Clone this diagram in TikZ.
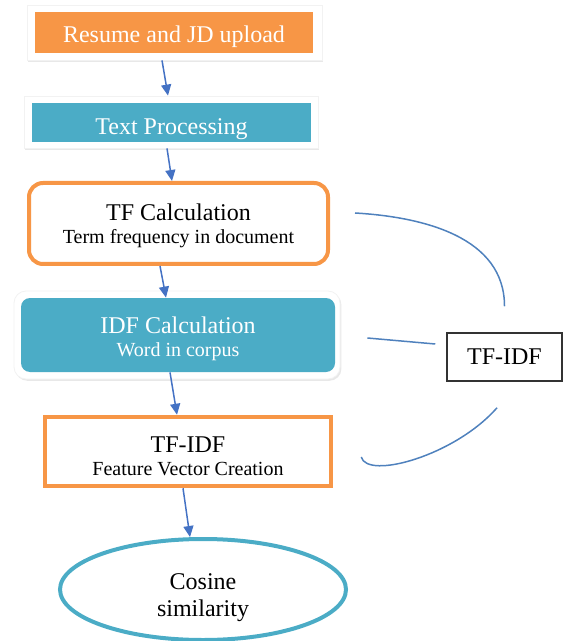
\documentclass[tikz,border=0pt]{standalone}
\usepackage{fontspec}
\setmainfont{Liberation Serif}
\usetikzlibrary{shapes.geometric,arrows.meta,shadows}

\definecolor{boxorange}{HTML}{F79646}
\definecolor{boxteal}{HTML}{4BACC6}
\definecolor{flowblue}{HTML}{4472C4}
\definecolor{linkblue}{HTML}{4F81BD}

\tikzset{
  card/.style={fill=white, draw=black!5, line width=0.4pt, inner sep=0pt,
    drop shadow={shadow xshift=0.7pt, shadow yshift=-0.9pt, opacity=0.18}},
  fillbox/.style={text=white, inner sep=0pt, align=center, text depth=0pt,
    font=\fontsize{12}{11.5}\selectfont},
  orangeframe/.style={draw=boxorange, line width=2pt, fill=white, inner sep=0pt,
    align=center, text depth=0pt, font=\fontsize{12}{11.5}\selectfont},
  flow/.style={draw=flowblue, line width=0.75pt, -{Triangle[length=5.5pt,width=5pt]}},
  link/.style={draw=linkblue, line width=0.75pt}
}

\begin{document}
\begin{tikzpicture}[x=0.5pt,y=-0.5pt]
  \useasboundingbox (0,0) rectangle (563,641);
  % left column
  \node[card, minimum width=147.5pt, minimum height=27.5pt] (upcard) at (174.5,32.5) {};
  \node[fillbox, fill=boxorange, text height=10.2pt, minimum width=139pt, minimum height=20.5pt] (upload) at (174,32.5) {Resume and JD upload};
  \node[card, minimum width=147pt, minimum height=26pt] (proccard) at (171,122) {};
  \node[fillbox, fill=boxteal, text height=12.5pt, minimum width=139.5pt, minimum height=19.5pt] (proc) at (171.5,122.5) {Text Processing};
  \node[orangeframe, rounded corners=7pt, text height=20.5pt, minimum width=149.5pt, minimum height=40.5pt] (tf) at (178.5,223.5)
    {TF Calculation\\{\fontsize{10}{11.5}\selectfont Term frequency in document}};
  \node[card, rounded corners=6pt, minimum width=163pt, minimum height=44pt] (idfcard) at (177,335) {};
  \node[fillbox, fill=boxteal, rounded corners=4.5pt, text height=21pt, minimum width=157pt, minimum height=37pt] (idf) at (178,335)
    {IDF Calculation\\{\fontsize{10}{11.5}\selectfont Word in corpus}};
  \node[orangeframe, line width=2.25pt, text height=23.5pt, minimum width=143pt, minimum height=34.5pt] (vector) at (188,451.5)
    {TF-IDF\\{\fontsize{10}{11.5}\selectfont Feature Vector Creation}};
  \node[ellipse, draw=boxteal, line width=2pt, minimum width=143pt, minimum height=50.5pt, inner sep=0pt,
    align=center, text height=26.5pt, text depth=0pt, font=\fontsize{12}{13.3}\selectfont] (cosine) at (203,589.5) {Cosine\\similarity};
  % right box
  \node[draw=black!80, line width=0.75pt, minimum width=57.5pt, minimum height=24pt,
    font=\fontsize{12}{13}\selectfont] (tfidf) at (504.5,357) {TF-IDF};

  % arrows
  \draw[flow] ([xshift=-6.25pt]upcard.south) -- ([xshift=-1.5pt]proccard.north);
  \draw[flow] ([xshift=-2pt]proccard.south) -- ([xshift=-3.25pt]tf.north);
  \draw[flow] ([xshift=-9.25pt]tf.south) -- ([xshift=-6pt]idf.north);
  \draw[flow] ([xshift=-4pt]idf.south) -- ([xshift=-5.5pt]vector.north);
  \draw[flow] ([xshift=-2.5pt]vector.south) -- ([xshift=-6.5pt]cosine.north);

  % lines to the TF-IDF box
  \draw[link] ([xshift=12.5pt,yshift=5.25pt]tf.east) .. controls +(69,4) and +(0,-69) .. ([yshift=13pt]tfidf.north);
  \draw[link] ([xshift=13.5pt,yshift=-1.5pt]idfcard.east) -- ([xshift=-5.5pt,yshift=6.5pt]tfidf.west);
  \draw[link] ([xshift=-3.75pt,yshift=-13pt]tfidf.south) .. controls +(-42,48) and +(6,23) .. ([xshift=14pt,yshift=-2.75pt]vector.east);
\end{tikzpicture}
\end{document}
